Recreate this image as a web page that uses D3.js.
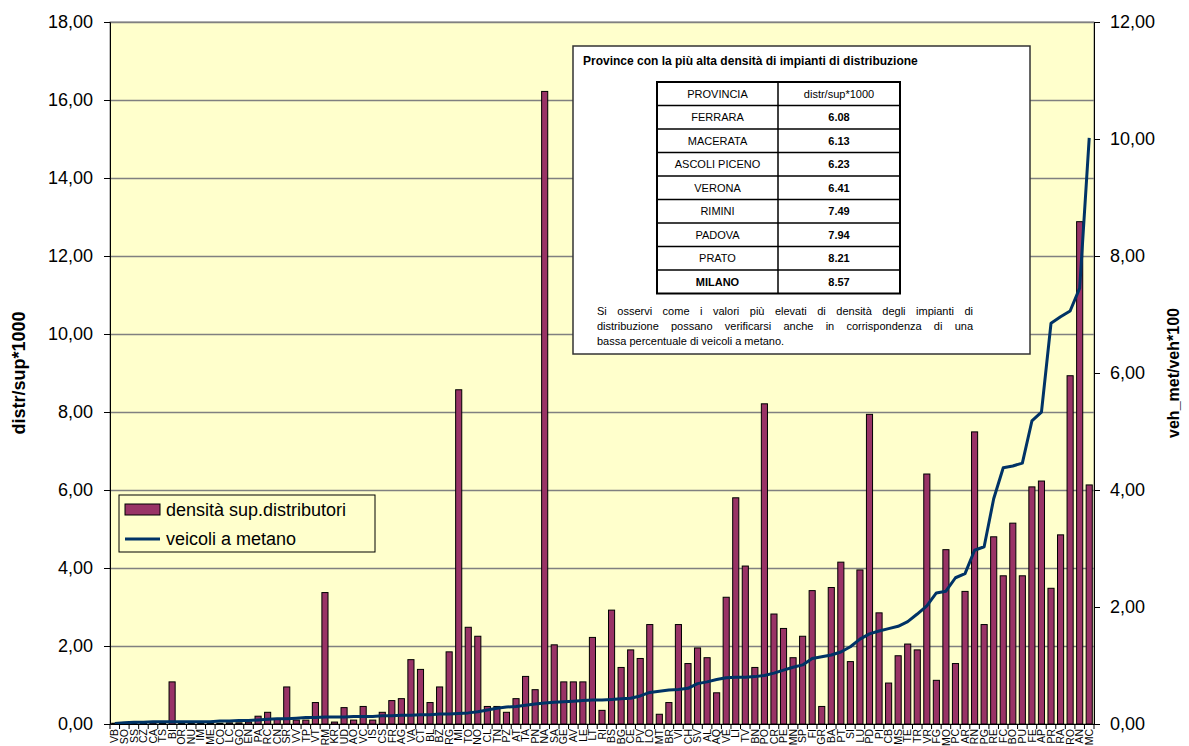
<!DOCTYPE html>
<html>
<head>
<meta charset="utf-8">
<script src="https://cdn.jsdelivr.net/npm/d3@7"></script>
<style>
  body { margin: 0; background: #fff; }
  text { font-family: Arial, "Liberation Sans", sans-serif; }
</style>
</head>
<body>
<svg id="chart" width="1189" height="746"></svg>
<script>
// province (sigla) ordinate per quota di veicoli a metano
var province = ['VB','SO','SS','CZ','CA','TS','BI','OR','NU','IM','ME','CO','LC','GO','EN','PA','RC','CN','SR','VV',
  'TP','VT','RM','KR','UD','AO','VC','IS','CS','FR','AG','VA','CT','BL','BZ','RG','MI','TO','NO','CL',
  'TN','PZ','AT','TA','PN','NA','SA','GE','AV','LE','LT','RI','BS','BG','CE','PV','LO','MT','BR','VI',
  'CH','SV','AL','AQ','VE','LI','TV','BN','PO','CR','PE','MN','SP','FI','GR','BA','PT','SI','LU','PD',
  'PI','CB','MS','TE','TR','VR','FG','MO','PC','AR','RN','PG','RE','FC','BO','PU','FE','AP','PR','RA',
  'RO','AN','MC'];

// distr/sup*1000 (asse sinistro)
var densita = [0.02,0.02,0.02,0.02,0.03,0.02,1.08,0.02,0.02,0.02,0.02,0.02,0.03,0.03,0.05,0.20,0.30,0.12,0.95,0.10,
  0.10,0.55,3.37,0.05,0.42,0.10,0.45,0.10,0.30,0.60,0.65,1.65,1.40,0.55,0.95,1.85,8.57,2.48,2.25,0.45,
  0.45,0.30,0.65,1.22,0.88,16.22,2.03,1.08,1.08,1.08,2.22,0.35,2.92,1.45,1.90,1.68,2.55,0.25,0.55,2.55,
  1.55,1.95,1.70,0.80,3.25,5.80,4.05,1.45,8.21,2.82,2.45,1.70,2.25,3.42,0.45,3.50,4.15,1.60,3.95,7.94,
  2.85,1.05,1.75,2.05,1.90,6.41,1.12,4.47,1.55,3.40,7.49,2.55,4.80,3.80,5.15,3.80,6.08,6.23,3.48,4.85,
  8.93,12.88,6.13];

// veh_met/veh*100 (asse destro)
var metano = [0.01,0.02,0.03,0.03,0.04,0.04,0.04,0.04,0.04,0.04,0.04,0.05,0.05,0.06,0.06,0.07,0.08,0.09,0.09,0.10,
  0.11,0.11,0.12,0.12,0.12,0.13,0.13,0.13,0.14,0.14,0.15,0.15,0.16,0.16,0.17,0.17,0.18,0.19,0.21,0.24,
  0.27,0.29,0.30,0.32,0.34,0.36,0.37,0.38,0.39,0.40,0.41,0.41,0.42,0.43,0.44,0.48,0.54,0.56,0.58,0.59,
  0.61,0.69,0.72,0.76,0.79,0.80,0.80,0.81,0.83,0.87,0.92,0.97,1.01,1.12,1.15,1.18,1.23,1.32,1.45,1.54,
  1.59,1.63,1.67,1.75,1.88,2.02,2.24,2.27,2.50,2.57,2.97,3.03,3.85,4.38,4.41,4.46,5.18,5.33,6.85,6.96,
  7.06,7.45,10.02];

var leftTicks = [0, 2, 4, 6, 8, 10, 12, 14, 16, 18];
var rightTicks = [0, 2, 4, 6, 8, 10, 12];

var tabNomi = ['FERRARA','MACERATA','ASCOLI PICENO','VERONA','RIMINI','PADOVA','PRATO','MILANO'];
var tabValori = ['6.08','6.13','6.23','6.41','7.49','7.94','8.21','8.57'];
var notaRighe = ['Si osservi come i valori più elevati di densità degli impianti di',
  'distribuzione possano verificarsi anche in corrispondenza di una',
  'bassa percentuale di veicoli a metano.'];

var margin = {top: 22, right: 95, bottom: 22, left: 110},
    width = 1189 - margin.left - margin.right,
    height = 746 - margin.top - margin.bottom;

var svg = d3.select('#chart');
var g = svg.append('g').attr('transform', 'translate(' + margin.left + ',' + margin.top + ')');

var x = d3.scaleBand().domain(province).range([0, width]).paddingInner(0.36).paddingOuter(0.18),
    yL = d3.scaleLinear().domain([0, 18]).range([height, 0]),
    yR = d3.scaleLinear().domain([0, 12]).range([height, 0]);

var fmt = function(d) { return d3.format('.2f')(d).replace('.', ','); };

// plot area
g.append('rect').attr('width', width).attr('height', height)
  .attr('fill', '#FFFFCC').attr('stroke', '#808080').attr('stroke-width', 1);

// gridlines
g.append('g')
  .call(d3.axisLeft(yL).tickValues(leftTicks.slice(1)).tickSize(-width).tickFormat(''))
  .call(function(s) {
    s.select('.domain').remove();
    s.selectAll('.tick line').attr('stroke', '#808080').attr('stroke-width', 1.5);
  });

// bars
g.selectAll('.bar').data(province).enter().append('rect')
  .attr('class', 'bar')
  .attr('x', function(d) { return x(d); })
  .attr('y', function(d, i) { return yL(densita[i]); })
  .attr('width', x.bandwidth())
  .attr('height', function(d, i) { return height - yL(densita[i]); })
  .attr('fill', '#993366').attr('stroke', '#000').attr('stroke-width', 1);

// line
var line = d3.line()
  .x(function(d, i) { return x(province[i]) + x.bandwidth() / 2; })
  .y(function(d) { return yR(d); });
g.append('path').datum(metano).attr('d', line)
  .attr('fill', 'none').attr('stroke', '#003366').attr('stroke-width', 3).attr('stroke-linejoin', 'round');

// left axis
g.append('g')
  .call(d3.axisLeft(yL).tickValues(leftTicks).tickFormat(fmt).tickSize(6).tickPadding(11))
  .call(function(s) {
    s.select('.domain').attr('stroke', '#000');
    s.selectAll('.tick text').attr('font-size', 18).attr('fill', '#000')
      .style('font-family', 'Arial, "Liberation Sans", sans-serif');
  });

// right axis
g.append('g').attr('transform', 'translate(' + width + ',0)')
  .call(d3.axisRight(yR).tickValues(rightTicks).tickFormat(fmt).tickSize(6).tickPadding(10))
  .call(function(s) {
    s.selectAll('.tick text').attr('font-size', 18).attr('fill', '#000')
      .style('font-family', 'Arial, "Liberation Sans", sans-serif');
  });

// bottom axis: labels at centers, ticks between categories
var xAxis = g.append('g').attr('transform', 'translate(0,' + height + ')')
  .call(d3.axisBottom(x).tickSize(0).tickPadding(0));
xAxis.select('.domain').attr('stroke', '#000');
xAxis.selectAll('.tick text')
  .attr('transform', 'rotate(-90)')
  .attr('x', -5).attr('y', 0).attr('dy', '0.35em')
  .attr('text-anchor', 'end')
  .attr('font-size', 10.5).attr('fill', '#000')
  .style('font-family', 'Arial, "Liberation Sans", sans-serif');
xAxis.selectAll('.sep').data(d3.range(province.length + 1)).enter().append('line')
  .attr('class', 'sep')
  .attr('x1', function(i) { return i * x.step(); })
  .attr('x2', function(i) { return i * x.step(); })
  .attr('y1', 0).attr('y2', 5).attr('stroke', '#000');

// axis titles
svg.append('text')
  .attr('transform', 'translate(25,' + (margin.top + height / 2) + ') rotate(-90)')
  .attr('text-anchor', 'middle').attr('font-size', 18).attr('font-weight', 'bold')
  .text('distr/sup*1000');
svg.append('text')
  .attr('transform', 'translate(1179,' + (margin.top + height / 2) + ') rotate(-90)')
  .attr('text-anchor', 'middle').attr('font-size', 16).attr('font-weight', 'bold')
  .text('veh_met/veh*100');

// legend
var leg = g.append('g').attr('transform', 'translate(9,473)');
leg.append('rect').attr('width', 256).attr('height', 57)
  .attr('fill', '#FFFFCC').attr('stroke', '#000');
leg.append('rect').attr('x', 6).attr('y', 9).attr('width', 35).attr('height', 11)
  .attr('fill', '#993366').attr('stroke', '#000');
leg.append('text').attr('x', 47).attr('y', 21).attr('font-size', 18).text('densità sup.distributori');
leg.append('line').attr('x1', 6).attr('x2', 41).attr('y1', 44).attr('y2', 44)
  .attr('stroke', '#003366').attr('stroke-width', 3);
leg.append('text').attr('x', 47).attr('y', 50).attr('font-size', 18).text('veicoli a metano');

// annotation box
var box = svg.append('g').attr('transform', 'translate(573,46)');
box.append('rect').attr('width', 457).attr('height', 308)
  .attr('fill', '#fff').attr('stroke', '#333').attr('stroke-width', 1.5);
box.append('text').attr('x', 10).attr('y', 19).attr('font-size', 12).attr('font-weight', 'bold')
  .text('Province con la più alta densità di impianti di distribuzione');

var rowH = 23.5, tx = 84, c1 = 121, c2 = 122;
var rows = [['PROVINCIA', 'distr/sup*1000', false]].concat(tabNomi.map(function(n, i) {
  return [n, tabValori[i], true];
}));
var tab = box.append('g').attr('transform', 'translate(' + tx + ',36)');
rows.forEach(function(r, i) {
  tab.append('line').attr('x1', 0).attr('x2', c1 + c2).attr('y1', i * rowH).attr('y2', i * rowH)
    .attr('stroke', '#000').attr('stroke-width', 1.5);
  tab.append('text').attr('x', c1 / 2).attr('y', i * rowH + rowH / 2 + 4)
    .attr('text-anchor', 'middle').attr('font-size', 11)
    .attr('font-weight', i === rows.length - 1 ? 'bold' : 'normal').text(r[0]);
  tab.append('text').attr('x', c1 + c2 / 2).attr('y', i * rowH + rowH / 2 + 4)
    .attr('text-anchor', 'middle').attr('font-size', 11)
    .attr('font-weight', r[2] ? 'bold' : 'normal').text(r[1]);
});
tab.append('rect').attr('width', c1 + c2).attr('height', rows.length * rowH)
  .attr('fill', 'none').attr('stroke', '#000').attr('stroke-width', 2);
tab.append('line').attr('x1', c1).attr('x2', c1).attr('y1', 0).attr('y2', rows.length * rowH)
  .attr('stroke', '#000').attr('stroke-width', 1.5);

// note, justified
var noteX = 24, noteW = 376;
notaRighe.forEach(function(riga, li) {
  var y = 269 + li * 15;
  var words = riga.split(' ');
  if (li === notaRighe.length - 1) {
    box.append('text').attr('x', noteX).attr('y', y).attr('font-size', 11).text(riga);
    return;
  }
  var nodes = words.map(function(w) {
    return box.append('text').attr('y', y).attr('font-size', 11).text(w);
  });
  var widths = nodes.map(function(n) { return n.node().getComputedTextLength(); });
  var gap = (noteW - d3.sum(widths)) / (words.length - 1);
  var cx = noteX;
  nodes.forEach(function(n, k) { n.attr('x', cx); cx += widths[k] + gap; });
});
</script>
</body>
</html>
